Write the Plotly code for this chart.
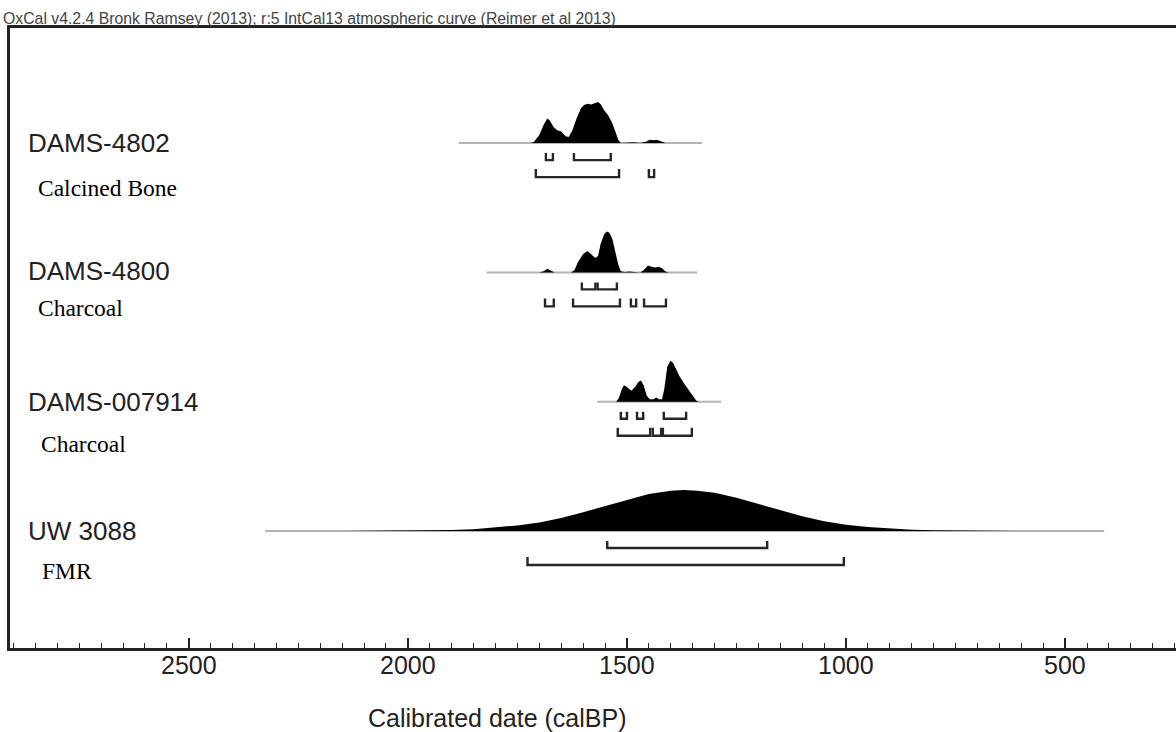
import plotly.graph_objects as go

# ---------------- data ----------------
samples = ["DAMS-4802", "DAMS-4800", "DAMS-007914", "UW 3088"]
materials = ["Calcined Bone", "Charcoal", "Charcoal", "FMR"]

# probability profiles (cal BP, relative height 0-1)
d4802_years = [1884, 1720, 1712, 1700, 1690, 1682, 1676, 1668, 1660, 1650, 1640, 1633, 1625, 1615,
               1605, 1598, 1590, 1582, 1575, 1566, 1560, 1552, 1543, 1535, 1527, 1520, 1514,
               1505, 1495, 1485, 1470, 1455, 1448, 1440, 1432, 1420, 1412, 1329]
d4802_prob = [0, 0, 0.03, 0.2, 0.45, 0.6, 0.55, 0.4, 0.32, 0.28, 0.17, 0.15, 0.3, 0.6,
              0.85, 0.93, 0.96, 0.94, 0.96, 1.0, 0.95, 0.8, 0.68, 0.52, 0.3, 0.08, 0,
              0.01, 0.02, 0.02, 0.0, 0.04, 0.08, 0.07, 0.08, 0.04, 0, 0]

d4800_years = [1820, 1700, 1690, 1682, 1675, 1665, 1628, 1620, 1612, 1600, 1590, 1582, 1572, 1566,
               1560, 1552, 1546, 1540, 1533, 1527, 1520, 1514, 1505, 1495, 1485, 1470, 1462,
               1452, 1444, 1436, 1428, 1420, 1412, 1405, 1340]
d4800_prob = [0, 0, 0.03, 0.09, 0.06, 0, 0, 0.05, 0.25, 0.45, 0.52, 0.45, 0.35, 0.4,
              0.7, 0.93, 1.0, 0.97, 0.8, 0.52, 0.2, 0.03, 0.01, 0.02, 0.01, 0, 0.05,
              0.17, 0.14, 0.12, 0.14, 0.1, 0.02, 0, 0]

d7914_years = [1568, 1525, 1519, 1512, 1507, 1500, 1490, 1482, 1474, 1468, 1462, 1455, 1448,
               1440, 1433, 1427, 1420, 1415, 1408, 1401, 1395, 1388, 1380, 1370, 1360, 1350,
               1342, 1336, 1285]
d7914_prob = [0, 0, 0.08, 0.3, 0.4, 0.36, 0.27, 0.35, 0.48, 0.52, 0.4, 0.15, 0.06,
              0.06, 0.1, 0.06, 0.06, 0.3, 0.85, 1.0, 0.95, 0.8, 0.62, 0.45, 0.3, 0.12,
              0.03, 0, 0]

uw3088_years = [2326, 2150, 2050, 2000, 1950, 1900, 1850, 1800, 1750, 1700, 1650, 1600, 1550, 1500,
                1450, 1400, 1370, 1340, 1300, 1250, 1200, 1150, 1100, 1050, 1000, 950, 900,
                850, 800, 750, 700, 650, 600, 411]
uw3088_prob = [0, 0, 0.002, 0.005, 0.011, 0.022, 0.042, 0.08, 0.135, 0.21, 0.32, 0.46, 0.61, 0.76,
               0.9, 0.98, 1.0, 0.98, 0.93, 0.81, 0.66, 0.5, 0.36, 0.24, 0.155, 0.095, 0.055,
               0.03, 0.016, 0.008, 0.004, 0.002, 0, 0]

# 68.2% and 95.4% ranges (cal BP start, end)
r68 = [
    [(1685, 1669), (1621, 1537)],
    [(1603, 1572), (1567, 1523)],
    [(1514, 1500), (1477, 1463), (1416, 1365)],
    [(1545, 1180)],
]
r95 = [
    [(1708, 1518), (1450, 1438)],
    [(1687, 1667), (1623, 1516), (1491, 1479), (1461, 1411)],
    [(1521, 1447), (1441, 1422), (1418, 1352)],
    [(1727, 1005)],
]

tick_vals = [2500, 2000, 1500, 1000, 500]
tick_text = ["2500", "2000", "1500", "1000", "500"]

profiles = [(d4802_years, d4802_prob), (d4800_years, d4800_prob),
            (d7914_years, d7914_prob), (uw3088_years, uw3088_prob)]

# ---------------- layout constants ----------------
W, H = 1176, 732
ML, MR, MT, MB = 10, 0, 28, 84
PW, PH = W - ML - MR, H - MT - MB
ROW_PX = 129.3
rows = [3, 2, 1, 0]
YMIN = -(H - MB - 531) / ROW_PX
YMAX = YMIN + PH / ROW_PX
HSCALE = 41 / ROW_PX
XLEFT, XRIGHT = 2908, 247
INK = "#222222"


def px2paper_x(px):
    return (px - ML) / PW


def px2paper_y(py):
    return (H - MB - py) / PH


fig = go.Figure()

for i, (yrs, pr) in enumerate(profiles):
    base = rows[i]
    # grey baseline
    fig.add_trace(go.Scatter(x=[yrs[0], yrs[-1]], y=[base, base], mode="lines",
                             line=dict(color="#b4b4b4", width=2), hoverinfo="skip"))
    # filled distribution (only where the probability is non-zero)
    nz = [k for k, p in enumerate(pr) if p > 0]
    k0, k1 = max(nz[0] - 1, 0), min(nz[-1] + 1, len(pr) - 1)
    sub_x = list(yrs[k0:k1 + 1])
    sub_y = [base + p * HSCALE for p in pr[k0:k1 + 1]]
    xs = sub_x + [sub_x[-1], sub_x[0]]
    ys = sub_y + [base, base]
    fig.add_trace(go.Scatter(x=xs, y=ys, mode="lines", fill="toself",
                             fillcolor="black", line=dict(color="rgba(0,0,0,0)", width=0),
                             hoverinfo="skip"))
    # brackets
    for ranges, (t_px, b_px) in ((r68[i], (10, 17)), (r95[i], (26, 34))):
        bx, by = [], []
        top = base - t_px / ROW_PX
        bot = base - b_px / ROW_PX
        for a, b in ranges:
            bx += [a, a, b, b, None]
            by += [top, bot, bot, top, None]
        fig.add_trace(go.Scatter(x=bx, y=by, mode="lines",
                                 line=dict(color="#262626", width=2.4), hoverinfo="skip"))

# labels
label_pos = [(26, 143), (26, 271), (26, 402), (26, 531)]
mat_pos = [(36, 188), (36, 308), (39, 444), (40, 571)]
for i in range(4):
    fig.add_annotation(x=px2paper_x(label_pos[i][0]), y=px2paper_y(label_pos[i][1]),
                       xref="paper", yref="paper", text=samples[i], showarrow=False,
                       xanchor="left", yanchor="middle",
                       font=dict(family="Liberation Sans, Arial", size=26, color=INK))
    fig.add_annotation(x=px2paper_x(mat_pos[i][0]), y=px2paper_y(mat_pos[i][1]),
                       xref="paper", yref="paper", text=materials[i], showarrow=False,
                       xanchor="left", yanchor="middle",
                       font=dict(family="Liberation Serif, Times New Roman", size=23.5, color="black"))

# tick labels (placed close to the axis, as in the reference)
for v, t in zip(tick_vals, tick_text):
    fig.add_annotation(x=v, y=px2paper_y(665), xref="x", yref="paper", text=t,
                       showarrow=False, xanchor="center", yanchor="middle",
                       font=dict(family="Liberation Sans, Arial", size=25, color=INK))

# header
fig.add_annotation(x=px2paper_x(1), y=px2paper_y(29.5), xref="paper", yref="paper",
                   text="OxCal v4.2.4 Bronk Ramsey (2013); r:5 IntCal13 atmospheric curve (Reimer et al 2013)",
                   showarrow=False, xanchor="left", yanchor="bottom",
                   font=dict(family="Liberation Sans, Arial", size=15.8, color="#444444"))
# axis title
fig.add_annotation(x=px2paper_x(497), y=px2paper_y(718), xref="paper", yref="paper",
                   text="Calibrated date (calBP)", showarrow=False,
                   xanchor="center", yanchor="middle",
                   font=dict(family="Liberation Sans, Arial", size=25, color=INK))

fig.update_layout(
    width=W, height=H, margin=dict(l=ML, r=MR, t=MT, b=MB),
    paper_bgcolor="white", plot_bgcolor="white", showlegend=False,
    xaxis=dict(range=[XLEFT, XRIGHT], tickvals=tick_vals, showticklabels=False,
               ticks="inside", ticklen=10, tickwidth=2, tickcolor=INK,
               showline=True, linewidth=2.5, linecolor=INK, mirror=True,
               showgrid=False, zeroline=False,
               minor=dict(dtick=50, tick0=0, ticks="inside", ticklen=5, tickwidth=1,
                          tickcolor=INK, showgrid=False)),
    yaxis=dict(range=[YMIN, YMAX], showticklabels=False, ticks="", showgrid=False,
               zeroline=False, showline=True, linewidth=2.5, linecolor=INK),
)

fig.write_html("out.html")
